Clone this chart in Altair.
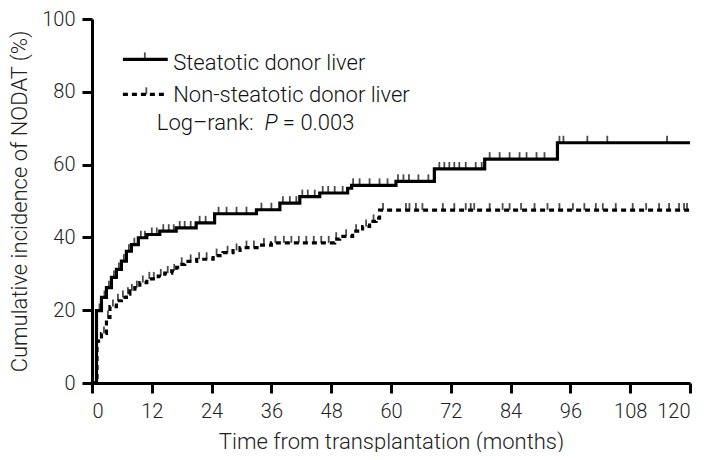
import altair as alt
import pandas as pd

# Steatotic donor liver (solid): step times (months) and cumulative incidence (%)
st_t = [0, 0.9, 1.9, 2.9, 3.9, 4.9, 5.9, 6.9, 7.9, 9.3, 11.0, 13.6, 16.9, 20.9, 24.6, 33.0, 37.7, 41.7, 45.7, 51.3, 52.1, 61.0, 68.7, 78.8, 93.4, 120]
st_v = [0, 19.9, 23.5, 26.2, 29.0, 31.2, 33.5, 36.2, 38.0, 39.9, 40.8, 41.7, 42.6, 44.0, 46.5, 47.6, 49.4, 51.2, 52.2, 53.5, 54.3, 55.4, 58.8, 61.5, 66.0, 66.0]
st_cens = [1.5, 2.5, 3.4, 4.4, 5.4, 6.4, 7.4, 8.5, 9.8, 10.6, 12.0, 13.0, 14.3, 15.4, 16.4, 17.6, 18.6, 19.8, 21.6, 22.8, 25.4, 27.0, 29.0, 31.0, 34.0, 36.0,
           38.3, 39.7, 41.0, 42.2, 43.3, 44.7, 46.3, 47.4, 48.7, 50.3, 52.4, 53.7, 55.7, 57.7, 59.3, 61.4, 62.5, 63.6, 65.5, 67.5,
           69.7, 70.7, 71.7, 72.7, 73.7, 75.0, 77.0, 78.2, 79.8, 81.8, 83.8, 85.8, 87.2, 89.2, 90.8, 93.8, 94.6, 99.4, 103.4, 115.4]

# Non-steatotic donor liver (dashed)
ns_t = [0, 1.0, 1.9, 2.9, 3.6, 4.9, 5.9, 6.9, 7.6, 8.6, 9.6, 11.0, 13.3, 14.6, 16.0, 17.0, 17.6, 18.6, 21.0, 24.3, 26.3, 28.3, 29.7, 33.7, 36.0, 48.7, 49.7, 52.3, 54.3, 55.7, 57.0, 57.7, 120]
ns_v = [0, 11.5, 13.6, 18.0, 21.0, 22.6, 23.5, 24.4, 25.3, 26.2, 27.6, 28.6, 29.4, 30.2, 30.8, 31.8, 32.6, 33.4, 34.0, 35.0, 35.8, 36.4, 37.2, 37.9, 38.5, 39.5, 40.3, 41.7, 43.0, 44.4, 45.3, 47.5, 47.5]
ns_cens = [2.4, 3.2, 4.2, 5.2, 6.2, 7.2, 8.0, 9.0, 10.2, 11.5, 12.4, 13.8, 15.2, 16.5, 18.0, 19.8, 21.5, 23.0, 25.0, 27.2, 29.0, 31.0, 32.5, 34.5, 36.8,
           38.5, 40.0, 41.5, 43.0, 44.5, 46.0, 47.5, 49.0, 51.0, 53.0, 55.0, 56.5,
           58.4, 63.0, 63.7, 65.0, 66.3, 70.4, 72.7, 75.0, 76.0, 76.7, 79.8, 82.4, 83.8, 86.1, 88.8, 91.4, 93.8, 96.5, 98.8, 101.1, 102.5, 105.1,
           108.5, 111.2, 113.8, 115.8, 117.8, 118.8, 119.4]

x_ticks = list(range(0, 121, 12))
y_ticks = [0, 20, 40, 60, 80, 100]

series = ["Steatotic donor liver", "Non-steatotic donor liver"]
logrank_label = "Log–rank:"
p_label = "P"
p_value_label = "= 0.003"


def step_value(times, values, t):
    v = values[0]
    for ti, vi in zip(times, values):
        if ti <= t:
            v = vi
    return v


curve = pd.concat([
    pd.DataFrame({"t": st_t, "v": st_v, "g": series[0]}),
    pd.DataFrame({"t": ns_t, "v": ns_v, "g": series[1]}),
])
cens = pd.concat([
    pd.DataFrame({"t": st_cens, "v": [step_value(st_t, st_v, c) for c in st_cens], "g": series[0]}),
    pd.DataFrame({"t": ns_cens, "v": [step_value(ns_t, ns_v, c) for c in ns_cens], "g": series[1]}),
])

FONT = "Roboto"
WEIGHT = 300
xs = alt.Scale(domain=[0, 120], nice=False, zero=False)
ys = alt.Scale(domain=[0, 100], nice=False)

x_enc = alt.X("t:Q", scale=xs, axis=alt.Axis(values=x_ticks, title="Time from transplantation (months)"))
y_enc = alt.Y("v:Q", scale=ys, axis=alt.Axis(values=y_ticks, title="Cumulative incidence of NODAT (%)"))

dash_scale = alt.Scale(domain=series, range=[[1, 0], [5, 4]])

lines = alt.Chart(curve).mark_line(interpolate="step-after", color="black", strokeWidth=3.2).encode(
    x=x_enc, y=y_enc,
    strokeDash=alt.StrokeDash("g:N", scale=dash_scale, legend=None),
    detail="g:N",
)

ticks = alt.Chart(cens).mark_tick(color="black", orient="vertical", size=7, thickness=1.8, yOffset=-3.5).encode(
    x="t:Q", y="v:Q",
)

# Legend drawn inside the plot (positions in data units)
leg_lines = pd.DataFrame({
    "t": [6.2, 15.2, 6.2, 15.2],
    "v": [88.9, 88.9, 79.3, 79.3],
    "g": [series[0], series[0], series[1], series[1]],
})
leg_line = alt.Chart(leg_lines).mark_line(color="black", strokeWidth=3.2).encode(
    x="t:Q", y="v:Q",
    strokeDash=alt.StrokeDash("g:N", scale=dash_scale, legend=None),
    detail="g:N",
)
leg_ticks = alt.Chart(pd.DataFrame({"t": [10.6, 10.9], "v": [88.9, 79.3]})).mark_tick(
    color="black", orient="vertical", size=7, thickness=1.8, yOffset=-3.5).encode(x="t:Q", y="v:Q")

leg_text = alt.Chart(pd.DataFrame({
    "t": [16.3, 16.3, 13.0],
    "v": [86.1, 77.1, 69.5],
    "label": [series[0], series[1], logrank_label],
})).mark_text(align="left", baseline="alphabetic", font=FONT, fontWeight=WEIGHT, fontSize=22, color="#111").encode(
    x="t:Q", y="v:Q", text="label:N")
p_text = alt.Chart(pd.DataFrame({"t": [34.6], "v": [69.5], "label": [p_label]})).mark_text(
    align="left", baseline="alphabetic", font=FONT, fontWeight=WEIGHT, fontSize=22, fontStyle="italic", color="#111").encode(
    x="t:Q", y="v:Q", text="label:N")
pv_text = alt.Chart(pd.DataFrame({"t": [38.3], "v": [69.5], "label": [p_value_label]})).mark_text(
    align="left", baseline="alphabetic", font=FONT, fontWeight=WEIGHT, fontSize=22, color="#111").encode(
    x="t:Q", y="v:Q", text="label:N")

chart = alt.layer(lines, ticks, leg_line, leg_ticks, leg_text, p_text, pv_text).properties(
    width=598, height=364,
    autosize=alt.AutoSizeParams(type="none"),
    padding={"left": 84, "top": 11, "right": 11, "bottom": 69},
).configure_view(stroke=None).configure_axis(
    domainColor="black", domainWidth=3, tickColor="black", tickWidth=3, tickSize=10,
    grid=False, labelFont=FONT, labelFontWeight=WEIGHT, labelFontSize=20, labelColor="#222",
    titleFont=FONT, titleFontSize=22, titleFontWeight=WEIGHT, titleColor="#222",
).configure_axisX(titlePadding=10, labelPadding=8).configure_axisY(titlePadding=10, labelPadding=7)

chart.save("out.html", embed_options={"renderer": "svg", "actions": False})
